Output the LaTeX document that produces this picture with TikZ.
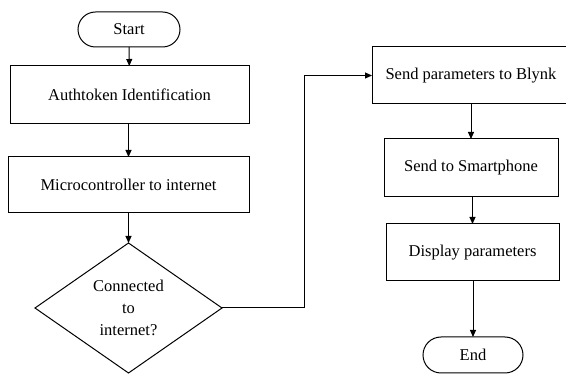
\documentclass[tikz,border=0pt]{standalone}
\usepackage{fontspec}
\setmainfont{Liberation Serif}
\usetikzlibrary{shapes.geometric,shapes.misc,arrows.meta}
\begin{document}
\begin{tikzpicture}[x=1pt,y=-1pt,
  every node/.style={font=\fontsize{16.5}{22}\selectfont, outer sep=0pt, inner sep=0pt},
  box/.style={draw, line width=1pt, rectangle},
  term/.style={draw, line width=1pt, rounded rectangle},
  dec/.style={draw, line width=1pt, diamond, align=center},
  arr/.style={line width=1pt, -{Triangle[length=7pt,width=6pt]}}]
\useasboundingbox (0,0) rectangle (566,374);
\node[term, minimum width=102pt, minimum height=35pt] (start) at (129,29.5) {Start};
\node[box, minimum width=239pt, minimum height=58pt] (auth) at (129.5,95) {Authtoken Identification};
\node[box, minimum width=241pt, minimum height=56pt] (micro) at (128.5,185) {Microcontroller to internet};
\node[dec, minimum width=187pt, minimum height=130pt, aspect=1.44] (conn) at (128.5,308) {Connected\\to\\internet?};
\node[box, minimum width=198pt, minimum height=57pt] (blynk) at (471,75.5) {Send parameters to Blynk};
\node[box, minimum width=174pt, minimum height=58pt] (smart) at (471,168) {Send to Smartphone};
\node[box, minimum width=173pt, minimum height=57pt] (disp) at (472.5,252.5) {Display parameters};
\node[term, minimum width=100pt, minimum height=36pt] (endn) at (473,355) {End};
\draw[arr] (start) -- (auth);
\draw[arr] (auth.south -| micro) -- (micro.north);
\draw[arr] (micro) -- (conn);
\coordinate (bend) at (304,308);
\draw[arr] (conn.east) -- (bend) |- (blynk.west);
\draw[arr] (blynk.south -| smart) -- (smart.north);
\draw[arr] (smart.south -| disp) -- (disp.north);
\draw[arr] (disp.south -| endn) -- (endn.north);
\end{tikzpicture}
\end{document}
